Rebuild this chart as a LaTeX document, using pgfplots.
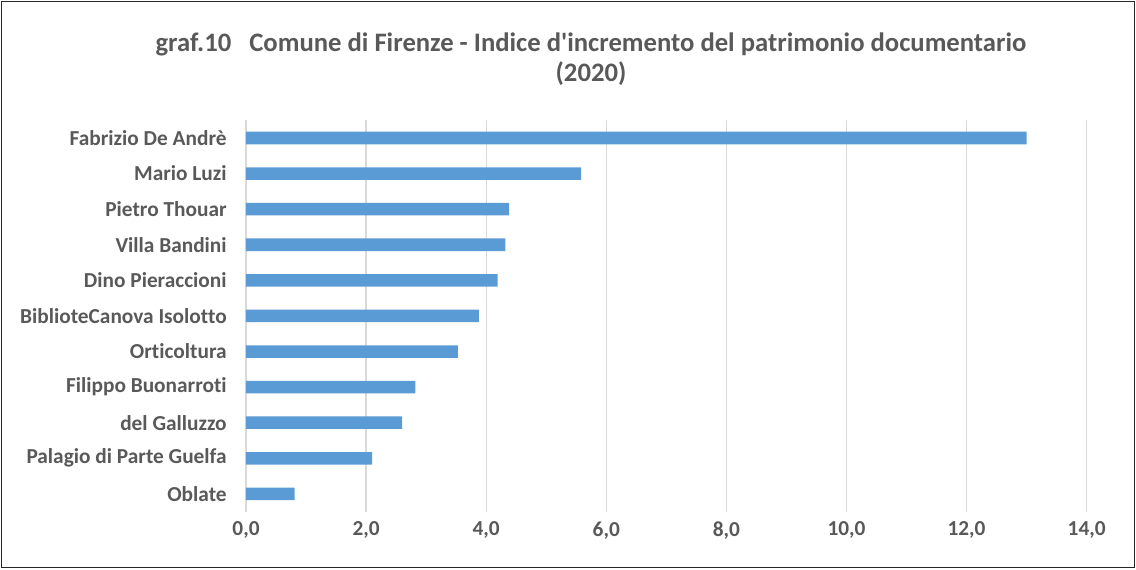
\documentclass[border=0pt]{standalone}
\usepackage{fontspec}
\setmainfont{Carlito}[Ligatures={NoCommon}]
\usepackage{pgfplots}
\pgfplotsset{compat=1.18}
\definecolor{barblue}{HTML}{5B9BD5}
\definecolor{txtgray}{HTML}{595959}
\definecolor{gridgray}{HTML}{D9D9D9}

\begin{document}
\begin{tikzpicture}[x=0.75pt,y=0.75pt]
\useasboundingbox (0,0) rectangle (1136,569);
\draw[line width=1.2pt, black!85] (1.5,1.5) rectangle (1134.5,567.5);
\node[align=center, font=\fontsize{20}{22.5}\selectfont\bfseries, text=txtgray]
  at (591,510) {graf.10\ \ \ Comune di Firenze - Indice d\textquotesingle incremento del patrimonio documentario\\(2020)};
\begin{axis}[
    at={(184.5pt,43pt)}, anchor=south west,
    scale only axis,
    width=630.5pt, height=293.6pt,
    xbar,
    bar width=9.4pt,
    xmin=0, xmax=14,
    ymin=-0.5, ymax=10.5,
    xtick={0,2,...,14},
    ytick=data,
    yticklabels={Oblate,Palagio di Parte Guelfa,del Galluzzo,Filippo Buonarroti,Orticoltura,BiblioteCanova Isolotto,Dino Pieraccioni,Villa Bandini,Pietro Thouar,Mario Luzi,Fabrizio De Andrè},
    xmajorgrids,
    grid style={gridgray, line width=1pt},
    axis line style={draw=none},
    major tick length=0pt,
    tick label style={font=\fontsize{16}{18}\selectfont\bfseries, text=txtgray},
    yticklabel style={xshift=-11pt},
    xticklabel style={yshift=-4pt},
    /pgf/number format/.cd, fixed, fixed zerofill, precision=1, use comma, assume math mode=true,
]
\draw[gridgray, line width=1pt] (axis cs:0,-0.5) -- (axis cs:0,10.5);
\addplot[fill=barblue, draw=none] coordinates {
(0.81,0) (2.10,1) (2.60,2) (2.82,3) (3.53,4) (3.88,5) (4.19,6) (4.32,7) (4.38,8) (5.58,9) (13.0,10)
};
\end{axis}
\end{tikzpicture}
\end{document}
